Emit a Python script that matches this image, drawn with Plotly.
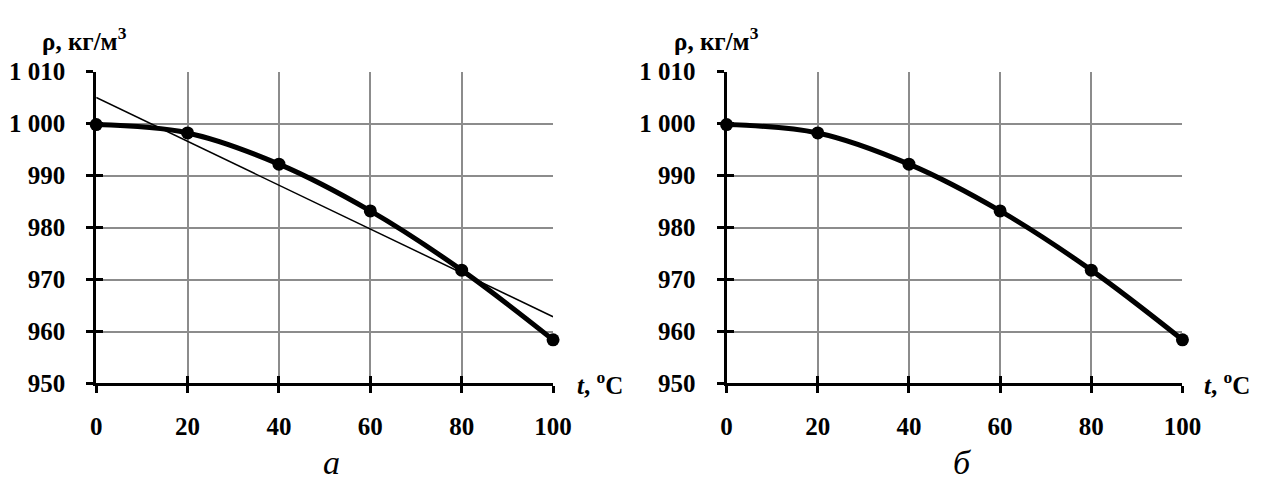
import numpy as np
import plotly.graph_objects as go

# Water density vs temperature
temperature = [0, 20, 40, 60, 80, 100]
density = [999.8, 998.2, 992.2, 983.2, 971.8, 958.4]

x_tick_values = [0, 20, 40, 60, 80, 100]
x_tick_labels = ["0", "20", "40", "60", "80", "100"]
y_tick_values = [950, 960, 970, 980, 990, 1000, 1010]
y_tick_labels = ["950", "960", "970", "980", "990", "1 000", "1 010"]
panel_letters = ["а", "б"]
y_title = "ρ, кг/м<sup>3</sup>"
x_title = "<i>t</i>, <sup>o</sup>C"

# Linear trend for panel "а"
slope, intercept = np.polyfit(temperature, density, 1)
trend_x = [temperature[0], temperature[-1]]
trend_y = [intercept + slope * t for t in trend_x]

W, H = 1274, 492
FONT = "Liberation Serif"
GRID = "#8c8c8c"

left_dom = [92 / W, 558 / W]
right_dom = [735 / W, 1200 / W]
y_dom = [(H - 392) / H, (H - 62) / H]

fig = go.Figure()

# panel а: trend line underneath the curve
fig.add_trace(go.Scatter(x=trend_x, y=trend_y, mode="lines",
                         line=dict(color="black", width=1.5),
                         xaxis="x", yaxis="y", showlegend=False, hoverinfo="skip"))
for xa, ya in (("x", "y"), ("x2", "y2")):
    fig.add_trace(go.Scatter(x=temperature, y=density, mode="lines+markers",
                             line=dict(color="black", width=5, shape="spline"),
                             marker=dict(color="black", size=13),
                             cliponaxis=False, xaxis=xa, yaxis=ya, showlegend=False))

# overlay axes give the inward half of the crossing tick marks
for xa, ya in (("x3", "y"), ("x", "y3"), ("x4", "y2"), ("x2", "y4")):
    fig.add_trace(go.Scatter(x=[None], y=[None], mode="markers", xaxis=xa, yaxis=ya,
                             showlegend=False, hoverinfo="skip"))

tick_font = dict(family=FONT, size=25, color="black", weight="bold")

def main_x(domain, anchor):
    return dict(domain=domain, anchor=anchor, range=[0, 100],
                tickmode="array", tickvals=x_tick_values, ticktext=x_tick_labels,
                showline=True, linecolor="black", linewidth=3,
                ticks="outside", ticklen=7, tickwidth=3, tickcolor="black",
                showgrid=True, gridcolor=GRID, gridwidth=1.5, zeroline=False,
                tickfont=tick_font, ticklabelstandoff=12, fixedrange=True)

def main_y(domain, anchor):
    return dict(domain=domain, anchor=anchor, range=[950, 1010],
                tickmode="array", tickvals=y_tick_values, ticktext=y_tick_labels,
                showline=True, linecolor="black", linewidth=3,
                ticks="outside", ticklen=7, tickwidth=3, tickcolor="black",
                showgrid=True, gridcolor=GRID, gridwidth=1.5, zeroline=False,
                tickfont=tick_font, ticklabelstandoff=16, fixedrange=True)

def over_x(domain, anchor, base):
    return dict(domain=domain, anchor=anchor, overlaying=base, range=[0, 100],
                tickmode="array", tickvals=x_tick_values,
                showline=False, ticks="inside", ticklen=7, tickwidth=3, tickcolor="black",
                showticklabels=False, showgrid=False, zeroline=False, fixedrange=True)

def over_y(domain, anchor, base):
    return dict(domain=domain, anchor=anchor, overlaying=base, range=[950, 1010],
                tickmode="array", tickvals=y_tick_values,
                showline=False, ticks="inside", ticklen=7, tickwidth=3, tickcolor="black",
                showticklabels=False, showgrid=False, zeroline=False, fixedrange=True)

annotations = []
for x0, tx, letter_x, letter in ((35, 580, 332, panel_letters[0]),
                                 (679, 1220, 976, panel_letters[1])):
    annotations.append(dict(text=y_title, x=x0 / W, y=(H - 28) / H, xref="paper", yref="paper",
                            xanchor="left", yanchor="middle", showarrow=False,
                            font=dict(family=FONT, size=25, color="black", weight="bold")))
    annotations.append(dict(text=x_title, x=tx / W, y=(H - 392) / H, xref="paper", yref="paper",
                            xanchor="left", yanchor="middle", showarrow=False,
                            font=dict(family=FONT, size=25, color="black", weight="bold")))
    annotations.append(dict(text=f"<i>{letter}</i>", x=letter_x / W, y=(H - 476) / H,
                            xref="paper", yref="paper", xanchor="center", yanchor="middle",
                            showarrow=False, font=dict(family=FONT, size=34, color="black")))

fig.update_layout(
    width=W, height=H, margin=dict(l=0, r=0, t=0, b=0),
    paper_bgcolor="white", plot_bgcolor="white",
    xaxis=main_x(left_dom, "y"), yaxis=main_y(y_dom, "x"),
    xaxis2=main_x(right_dom, "y2"), yaxis2=main_y(y_dom, "x2"),
    xaxis3=over_x(left_dom, "y", "x"), yaxis3=over_y(y_dom, "x", "y"),
    xaxis4=over_x(right_dom, "y2", "x2"), yaxis4=over_y(y_dom, "x2", "y2"),
    annotations=annotations, showlegend=False,
)

fig.write_html("out.html")
